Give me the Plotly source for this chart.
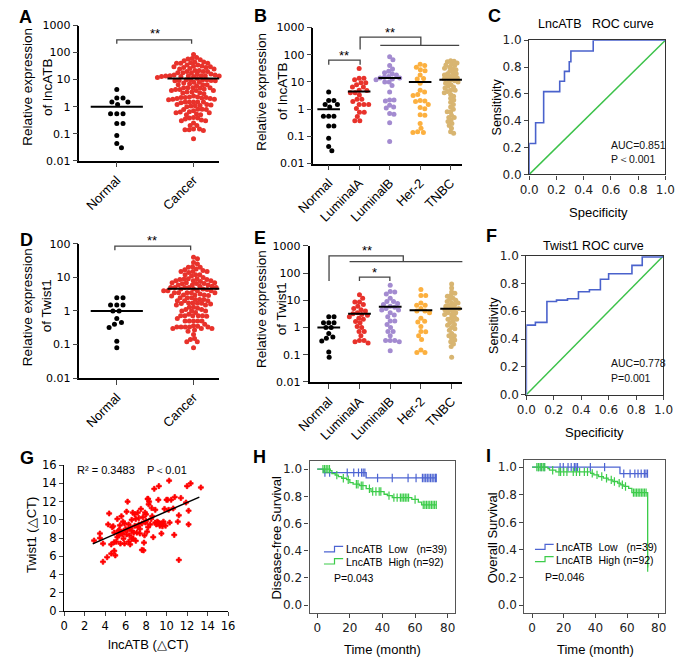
import numpy as np
import plotly.graph_objects as go

W, H = 685, 665

# ---------------- data ----------------
groups_B = ["Normal", "LuminalA", "LuminalB", "Her-2", "TNBC"]
groups_A = ["Normal", "Cancer"]

lnc_normal = [4.3, 2.1, 2.1, 1.5, 1.5, 1.2, 0.55, 0.55, 0.55, 0.24, 0.24, 0.085, 0.043, 0.03]
lnc_luminalA = [31, 13.6, 13.6, 12, 9.3, 9.3, 8, 6.5, 6.5, 5, 4.9, 4, 4, 3.3, 2.3, 2.3, 1.9,
                1.5, 1.5, 1.5, 1.07, 0.78, 0.78, 0.54, 0.38, 0.38]
lnc_luminalB = [85, 66, 40, 30, 25, 22, 20, 18, 16, 15, 14, 14, 13, 12, 10, 10, 7.5, 4.3, 2.2,
                2.2, 2.0, 1.4, 1.2, 1.1, 0.7, 0.65, 0.32, 0.065]
lnc_her2 = [45, 40, 35, 28, 26, 18, 13.5, 13, 9, 5, 4.3, 3.5, 3.2, 2.1, 2, 1.9, 1.5, 1.15, 1.05,
            0.63, 0.6, 0.3, 0.2, 0.15, 0.14, 0.14]
lnc_tnbc = [60, 58, 55, 50, 45, 42, 40, 35, 32, 30, 28, 25, 22, 20, 20, 18, 16, 15, 14, 14, 13,
            12, 11, 10, 10, 9, 8, 7, 6.5, 6, 5, 5, 4.5, 4, 3.5, 3, 2.5, 2.2, 1.8, 1.5, 1.2, 1.0,
            0.8, 0.8, 0.6, 0.5, 0.5, 0.4, 0.35, 0.3, 0.25, 0.2, 0.15, 0.13]
lnc_means_A = [1.0, 11.0]
lnc_means_B = [1.0, 4.5, 14.0, 10.0, 12.0]

tw_normal = [2.5, 2.5, 1.5, 1.5, 1.5, 1.0, 1.0, 0.6, 0.45, 0.4, 0.32, 0.126, 0.08]
tw_luminalA = [16, 12, 8.7, 8.7, 7, 6, 5, 4.5, 4, 3.5, 3.2, 3, 2.8, 2.5, 2.2, 2, 1.66, 1.5, 1.1,
               1.0, 0.72, 0.72, 0.5, 0.33, 0.33, 0.3, 0.27]
tw_luminalB = [36, 21, 20, 17, 12, 9.1, 9.1, 7.6, 7, 6, 5.5, 5, 4.4, 4.4, 3.5, 2.9, 2.5, 1.74,
               1.74, 1.3, 1.0, 0.72, 0.72, 0.5, 0.33, 0.33, 0.33, 0.3, 0.14]
tw_her2 = [25, 15, 15, 8, 6.6, 6.6, 5, 4, 4, 3.5, 2.2, 1.7, 1.6, 1.1, 0.72, 0.7, 0.5, 0.36,
           0.15, 0.12, 0.12]
tw_tnbc = [40, 28, 20, 18, 15, 14, 12, 11, 10, 9, 8, 8, 7, 6.5, 6, 5.5, 5, 5, 4.5, 4.5, 4, 3.5,
           3.5, 3, 3, 2.5, 2.2, 2, 2, 1.7, 1.5, 1.3, 1.2, 1.0, 0.9, 0.8, 0.6, 0.5, 0.5, 0.4,
           0.35, 0.3, 0.25, 0.2, 0.08]
tw_means_D = [1.0, 4.6]
tw_means_E = [1.0, 3.2, 5.8, 4.3, 4.9]

lnc_cancer = lnc_luminalA + lnc_luminalB + lnc_her2 + lnc_tnbc
tw_cancer = tw_luminalA + tw_luminalB + tw_her2 + tw_tnbc

# ROC curves (1 - specificity, sensitivity) step vertices
roc_lnc_fpr = [0, 0, 0.047, 0.106, 0.224, 0.259, 0.294, 0.306, 0.47, 1.0]
roc_lnc_tpr = [0, 0.23, 0.385, 0.617, 0.695, 0.768, 0.84, 0.92, 1.0, 1.0]
roc_tw_fpr = [0, 0, 0.066, 0.15, 0.22, 0.30, 0.38, 0.46, 0.54, 0.60, 0.77, 0.845, 1.0]
roc_tw_tpr = [0, 0.50, 0.52, 0.67, 0.68, 0.69, 0.74, 0.755, 0.83, 0.87, 0.93, 0.99, 1.0]

# Correlation (delta CT)
g_lnc = [2.93, 3.5, 3.5, 3.8, 3.8, 4.2, 4.3, 4.4, 4.6, 4.8, 4.9, 4.9, 4.9, 5.0, 5.2, 5.3, 5.35,
         5.45, 5.6, 5.5, 5.7, 5.75, 5.8, 6.0, 6.1, 6.2, 6.3, 6.4, 6.45, 6.6, 6.7, 6.75, 6.9, 7.0,
         7.1, 7.2, 7.3, 7.4, 7.5, 7.6, 7.75, 7.85, 7.95, 8.0, 8.15, 8.25, 8.4, 8.5, 8.55, 8.7,
         8.8, 8.9, 9.1, 9.2, 9.25, 9.35, 9.5, 9.6, 9.9, 10.0, 10.2, 10.25, 10.45, 10.65, 10.8,
         10.75, 11.1, 11.2, 11.2, 11.4, 11.9, 12.0, 12.15, 12.15, 12.35, 13.35,
         5.5, 5.8, 6.2, 6.5, 6.8, 7.2, 7.6, 8.0, 8.2, 8.3, 8.6, 8.9, 9.0, 9.2, 9.4, 9.7, 9.8,
         10.1, 5.9, 6.3, 6.6, 7.0, 7.4, 7.8, 5.1, 4.6, 5.2, 6.9, 7.7, 8.1, 4.7, 5.9, 6.1, 7.3,
         8.2, 9.6, 10.3, 5.4, 6.6, 7.9]
g_twist = [7.73, 8.5, 8.0, 7.4, 5.4, 5.9, 9.5, 10.7, 6.3, 9.3, 8.6, 7.55, 6.6, 6.1, 10.1, 8.8,
           8.3, 9.4, 10.4, 7.4, 8.45, 9.8, 7.95, 9.0, 10.9, 12.0, 9.5, 8.3, 7.3, 8.8, 10.8, 7.95,
           9.35, 10.1, 8.6, 10.8, 9.5, 9.0, 11.2, 6.7, 6.65, 8.3, 9.7, 10.6, 12.3, 11.7, 9.5,
           10.1, 11.3, 8.1, 13.4, 9.7, 9.8, 12.2, 13.7, 9.35, 8.5, 9.6, 9.35, 12.2, 11.1, 14.3,
           12.2, 11.25, 12.5, 8.35, 9.8, 10.5, 5.6, 12.4, 11.9, 13.7, 11.0, 9.5, 14.0, 13.55,
           8.5, 8.7, 8.9, 9.1, 8.6, 9.2, 9.6, 9.9, 12.3, 12.0, 10.4, 11.1, 9.5, 9.7, 9.6, 9.8,
           11.2, 12.2, 7.4, 7.6, 7.9, 7.7, 8.5, 7.5, 7.6, 7.3, 8.1, 10.6, 10.3, 8.7, 9.2, 9.6,
           8.4, 10.2, 9.2, 9.3, 9.7, 8.9, 10.0, 10.8]
g_fit_slope = 0.493
g_fit_intercept = 5.99
g_fit_range = [2.8, 13.2]

# Kaplan-Meier: disease-free survival
dfs_low_t = [0, 4, 30]
dfs_low_s = [1.0, 0.974, 0.935]
dfs_low_cens = [4.7, 7.6, 18.4, 22.4, 25.3, 27.2, 28.2, 29.2, 37, 46, 55.7, 60.6, 64.5, 65.5,
                66.5, 67.5, 68.5, 69.5, 70.5, 71.5, 72.5, 73]
dfs_high_t = [0, 8, 9, 11, 13, 15, 18, 20, 22, 26, 30, 33, 41, 43, 46, 58, 62, 64]
dfs_high_s = [1.0, 0.989, 0.967, 0.956, 0.945, 0.933, 0.922, 0.90, 0.889, 0.878, 0.856, 0.835,
              0.815, 0.805, 0.79, 0.777, 0.757, 0.737]
dfs_high_cens = [3.5, 4.5, 5.5, 6.5, 7.5, 12, 16, 19, 24, 25, 27, 28, 32, 34, 36, 38, 39, 44, 47,
                 49, 51, 52, 53, 54, 55, 56, 60, 65, 66, 67, 68, 69, 70, 71, 72, 73]
# Kaplan-Meier: overall survival
os_low_t = [0, 55.5]
os_low_s = [1.0, 0.953]
os_low_cens = [4, 5.6, 7.6, 17.7, 19.7, 22.7, 24.7, 26.7, 27.7, 28.7, 36.8, 45.8, 57.9, 61.9,
               64.9, 66.9, 68.9, 70.9, 71.9, 72.9]
os_high_t = [0, 10, 11, 15, 37, 39, 42, 45, 48, 51, 54, 56, 58, 61, 63, 73]
os_high_s = [1.0, 0.989, 0.978, 0.966, 0.955, 0.944, 0.932, 0.92, 0.908, 0.896, 0.884, 0.872,
             0.86, 0.846, 0.815, 0.272]
os_high_cens = [3, 4, 5, 6, 7, 8, 13, 17, 18, 20, 22, 26, 28, 30, 33, 35, 38, 41, 44, 47, 50, 52,
                55, 57, 59, 64, 65, 66, 67, 68, 69, 70, 71, 72, 73]
km_end = 73

# ---------------- styling ----------------
BLACK = "#000000"
RED = "#e8322b"
PURPLE = "#a38bd0"
ORANGE = "#fcb03f"
TAN = "#d8b571"
BLUE = "#4a62cc"
GREEN = "#3cc24a"
KM_BLUE = "#4d64d2"
KM_GREEN = "#3ccc4a"
TXT = "Liberation Sans, Arial, sans-serif"
NUM = "DejaVu Sans, sans-serif"

fig = go.Figure()


def xd(p0, p1):
    return [p0 / W, p1 / W]


def yd(top, bot):
    return [1 - bot / H, 1 - top / H]


def ax_names(k):
    return ("x" if k == 1 else f"x{k}"), ("y" if k == 1 else f"y{k}")


def swarm_offsets(vals, px_per_dec, px_per_unit, d):
    y = np.log10(np.asarray(vals, float)) * px_per_dec
    order = np.argsort(-y, kind="stable")
    px_l, py_l = [], []
    off = np.zeros(len(y))
    for i in order:
        yi = y[i]
        cands = [0.0]
        for px, py in zip(px_l, py_l):
            dy = yi - py
            if abs(dy) < d:
                dx = np.sqrt(d * d - dy * dy)
                cands += [px + dx, px - dx]
        cands.sort(key=lambda c: (abs(c), -c))
        chosen = cands[-1]
        for c in cands:
            if all((c - px) ** 2 + (yi - py) ** 2 >= d * d - 1e-6 for px, py in zip(px_l, py_l)):
                chosen = c
                break
        off[i] = chosen
        px_l.append(chosen)
        py_l.append(yi)
    return off / px_per_unit


def add_swarm(k, groups, colors, means, ppd, ppu, size, spacings, hw):
    xa, ya = ax_names(k)
    for i, (vals, col, d) in enumerate(zip(groups, colors, spacings)):
        off = swarm_offsets(vals, ppd, ppu, d)
        fig.add_trace(go.Scatter(x=i + off, y=vals, mode="markers", xaxis=xa, yaxis=ya,
                                 marker=dict(size=size, color=col, line=dict(width=0)),
                                 showlegend=False, hoverinfo="skip", cliponaxis=False))
    for i, m in enumerate(means):
        fig.add_trace(go.Scatter(x=[i - hw, i + hw], y=[m, m], mode="lines", xaxis=xa, yaxis=ya,
                                 line=dict(color="black", width=2), showlegend=False,
                                 hoverinfo="skip"))


# dot plots
add_swarm(1, [lnc_normal, lnc_cancer], [BLACK, RED], lnc_means_A, 27.6, 80, 5,
          [6.5, 4.4], 0.34)
add_swarm(2, [lnc_normal, lnc_luminalA, lnc_luminalB, lnc_her2, lnc_tnbc],
          [BLACK, RED, PURPLE, ORANGE, TAN], lnc_means_B, 27.9, 32, 5,
          [5.5, 5.0, 4.6, 5.0, 3.6], 0.37)
add_swarm(4, [tw_normal, tw_cancer], [BLACK, RED], tw_means_D, 34.25, 80, 5,
          [6.5, 4.4], 0.34)
add_swarm(5, [tw_normal, tw_luminalA, tw_luminalB, tw_her2, tw_tnbc],
          [BLACK, RED, PURPLE, ORANGE, TAN], tw_means_E, 27.8, 32, 5,
          [5.5, 4.8, 4.8, 5.0, 3.6], 0.37)

# ROC curves
for k, fpr, tpr in [(3, roc_lnc_fpr, roc_lnc_tpr), (6, roc_tw_fpr, roc_tw_tpr)]:
    xa, ya = ax_names(k)
    fig.add_trace(go.Scatter(x=[0, 1], y=[0, 1], mode="lines", xaxis=xa, yaxis=ya,
                             line=dict(color=GREEN, width=1.5), showlegend=False,
                             hoverinfo="skip"))
    fig.add_trace(go.Scatter(x=fpr, y=tpr, mode="lines", line_shape="hv", xaxis=xa, yaxis=ya,
                             line=dict(color=BLUE, width=1.6), showlegend=False,
                             hoverinfo="skip", cliponaxis=False))

# correlation
fig.add_trace(go.Scatter(x=g_lnc, y=g_twist, mode="markers", xaxis="x7", yaxis="y7",
                         marker=dict(symbol="cross", size=4.2, color="#ff0000",
                                     line=dict(width=0.7, color="#ff0000")),
                         showlegend=False, hoverinfo="skip"))
fx = np.array(g_fit_range)
fig.add_trace(go.Scatter(x=fx, y=g_fit_slope * fx + g_fit_intercept, mode="lines",
                         xaxis="x7", yaxis="y7", line=dict(color="black", width=1.5),
                         showlegend=False, hoverinfo="skip"))


# Kaplan-Meier
def step_at(t, s, c):
    idx = np.searchsorted(np.asarray(t, float), c, side="right") - 1
    return [s[j] for j in idx]


for k, series in [(8, [(dfs_low_t, dfs_low_s, dfs_low_cens, KM_BLUE),
                       (dfs_high_t, dfs_high_s, dfs_high_cens, KM_GREEN)]),
                  (9, [(os_low_t, os_low_s, os_low_cens, KM_BLUE),
                       (os_high_t, os_high_s, os_high_cens, KM_GREEN)])]:
    xa, ya = ax_names(k)
    for t, s, cens, col in series:
        fig.add_trace(go.Scatter(x=list(t) + [km_end], y=list(s) + [s[-1]], mode="lines",
                                 line_shape="hv", xaxis=xa, yaxis=ya,
                                 line=dict(color=col, width=1.3), showlegend=False,
                                 hoverinfo="skip"))
        fig.add_trace(go.Scatter(x=cens, y=step_at(t, s, cens), mode="markers",
                                 xaxis=xa, yaxis=ya,
                                 marker=dict(symbol="line-ns-open", size=6, color=col,
                                             line=dict(color=col, width=1.2)),
                                 showlegend=False, hoverinfo="skip"))

# ---------------- axes ----------------
tickfont = dict(family=NUM, size=11, color="black")
catfont = dict(family=TXT, size=13, color="black")


def log_y(dom, rng, vals):
    return dict(domain=dom, type="log", range=rng, tickvals=vals,
                ticktext=[("%g" % v) for v in vals], ticks="outside", ticklen=5,
                tickwidth=1.3, showline=True, linecolor="black", linewidth=1.5,
                showgrid=False, zeroline=False, tickfont=tickfont)


def cat_x(dom, rng, names, anchor):
    return dict(domain=dom, range=rng, tickvals=list(range(len(names))), ticktext=names,
                tickangle=-45, ticks="outside", ticklen=5, tickwidth=1.3, showline=True,
                linecolor="black", linewidth=1.5, showgrid=False, zeroline=False,
                tickfont=catfont, anchor=anchor)


def roc_ax(dom, anchor):
    return dict(domain=dom, range=[0, 1], tickvals=[0, 0.2, 0.4, 0.6, 0.8, 1.0],
                ticktext=["0.0", "0.2", "0.4", "0.6", "0.8", "1.0"], ticks="outside",
                ticklen=4, tickwidth=1.2, showline=True, mirror=True, linecolor="#333",
                linewidth=1.3, showgrid=False, zeroline=False,
                tickfont=dict(family=NUM, size=12, color="#222"), anchor=anchor)


def km_ax(dom, rng, vals, text, anchor):
    return dict(domain=dom, range=rng, tickvals=vals, ticktext=text, ticks="outside",
                ticklen=4, tickwidth=1.1, tickcolor="#444", showline=True, mirror=True,
                linecolor="#555", linewidth=1.2, showgrid=False, zeroline=False,
                tickfont=dict(family=NUM, size=12, color="#222"), anchor=anchor)


dec5 = [0.01, 0.1, 1, 10, 100, 1000]
dec4 = [0.01, 0.1, 1, 10, 100]
layout = dict(
    width=W, height=H, autosize=False, margin=dict(l=0, r=0, t=0, b=0),
    plot_bgcolor="white", paper_bgcolor="white", showlegend=False,
    xaxis=cat_x(xd(64, 210), [-0.4875, 1.3375], groups_A, "y"),
    yaxis=dict(log_y(yd(19, 157), [-2, 3], dec5), anchor="x"),
    xaxis2=cat_x(xd(308, 463), [-0.5, 4.375], groups_B, "y2"),
    yaxis2=dict(log_y(yd(21, 160), [-2, 3], dec5), anchor="x2"),
    xaxis3=roc_ax(xd(533, 675), "y3"),
    yaxis3=roc_ax(yd(34, 171), "x3"),
    xaxis4=cat_x(xd(64, 210), [-0.4875, 1.3375], groups_A, "y4"),
    yaxis4=dict(log_y(yd(242, 379), [-2, 2], dec4), anchor="x4"),
    xaxis5=cat_x(xd(304, 463), [-0.625, 4.34], groups_B, "y5"),
    yaxis5=dict(log_y(yd(244, 383), [-2, 3], dec5), anchor="x5"),
    xaxis6=roc_ax(xd(530, 673), "y6"),
    yaxis6=roc_ax(yd(254, 396), "x6"),
    xaxis7=dict(domain=xd(48, 219), range=[0, 16], dtick=2, ticks="outside", ticklen=4,
                showline=True, linecolor="black", linewidth=1.2, showgrid=False,
                zeroline=False, tickfont=dict(family=NUM, size=11.5, color="black"),
                anchor="y7"),
    yaxis7=dict(domain=yd(468, 617), range=[0, 16], dtick=2, ticks="outside", ticklen=4,
                showline=True, linecolor="black", linewidth=1.2, showgrid=False,
                zeroline=False, tickfont=dict(family=NUM, size=11.5, color="black"),
                anchor="x7"),
    xaxis8=km_ax(xd(304, 456), [-4.7, 84.7], [0, 20, 40, 60, 80],
                 ["0", "20", "40", "60", "80"], "y8"),
    yaxis8=km_ax(yd(464, 619), [-0.058, 1.058], [0, 0.2, 0.4, 0.6, 0.8, 1.0],
                 ["0.0", "0.2", "0.4", "0.6", "0.8", "1.0"], "x8"),
    xaxis9=km_ax(xd(528, 675), [-4.85, 84.2], [0, 20, 40, 60, 80],
                 ["0", "20", "40", "60", "80"], "y9"),
    yaxis9=km_ax(yd(463, 619), [-0.057, 1.05], [0, 0.2, 0.4, 0.6, 0.8, 1.0],
                 ["0.0", "0.2", "0.4", "0.6", "0.8", "1.0"], "x9"),
)
fig.update_layout(**layout)

# ---------------- annotations ----------------
anns = []


def ann(text, px, py, size=13, angle=0, xanchor="center", bold=False, family=TXT,
        color="black"):
    anns.append(dict(text=("<b>%s</b>" % text) if bold else text, x=px / W, y=1 - py / H,
                     xref="paper", yref="paper", showarrow=False, textangle=angle,
                     xanchor=xanchor, yanchor="middle",
                     font=dict(family=family, size=size, color=color)))


# panel letters
for lab, px, py in [("A", 8, 10), ("B", 252.5, 9.5), ("C", 496.5, 9), ("D", 8.5, 238),
                    ("E", 252.5, 236), ("F", 494, 234), ("G", 9, 461), ("H", 251.5, 459.5),
                    ("I", 490.5, 459)]:
    ann(lab, px, py, size=18, bold=True)

# y-axis titles of dot plots
ann("Relative expression", 10, 82, size=13.5, angle=-90)
ann("of lncATB", 30, 82, size=13.5, angle=-90)
ann("Relative expression", 254, 87, size=13.5, angle=-90)
ann("of lncATB", 275, 86, size=13.5, angle=-90)
ann("Relative expression", 10, 307, size=13.5, angle=-90)
ann("of Twist1", 30, 305, size=13.5, angle=-90)
ann("Relative expression", 254, 309, size=13.5, angle=-90)
ann("of Twist1", 275, 308, size=13.5, angle=-90)

# ROC texts
ann("LncATB\u00a0\u00a0\u00a0ROC curve", 603, 17, size=12.5)
ann("Sensitivity", 499, 102, size=12.5, angle=-90)
ann("Specificity", 605, 210, size=13)
ann("AUC=0.851", 616, 141, size=10.5, xanchor="left", color="#111")
ann("P\uff1c0.001", 616, 155, size=10.5, xanchor="left", color="#111")
ann("Twist1 ROC curve", 600, 244, size=12.5)
ann("Sensitivity", 496, 325, size=12.5, angle=-90)
ann("Specificity", 601, 435, size=13)
ann("AUC=0.778", 616, 364, size=10.5, xanchor="left", color="#111")
ann("P=0.001", 616, 379, size=10.5, xanchor="left", color="#111")

# correlation texts
ann("Twist1 (\u25b3CT)", 14, 539, size=13, angle=-90)
ann("lncATB (\u25b3CT)", 136, 651, size=13)
ann("R\u00b2 = 0.3483\u00a0\u00a0\u00a0\u00a0P\uff1c0.01", 59, 473, size=11, xanchor="left")

# KM texts
ann("Disease-free Survival", 270, 542, size=13, angle=-90)
ann("Time (month)", 380, 656, size=13)
ann("Overall Survival", 495, 542, size=13, angle=-90)
ann("Time (month)", 602, 656, size=13)
ann("LncATB\u00a0\u00a0Low\u00a0\u00a0\u00a0(n=39)", 340, 554, size=10.5, xanchor="left")
ann("LncATB\u00a0\u00a0High\u00a0(n=92)", 340, 567, size=10.5, xanchor="left")
ann("P=0.043", 327, 583, size=10.5, xanchor="left")
ann("LncATB\u00a0\u00a0Low\u00a0\u00a0\u00a0(n=39)", 559, 552, size=10.5, xanchor="left")
ann("LncATB\u00a0\u00a0High\u00a0(n=92)", 559, 564.5, size=10.5, xanchor="left")
ann("P=0.046", 547, 582, size=10.5, xanchor="left")

# significance marks
ann("**", 143, 27, size=13)
ann("**", 340, 50, size=13)
ann("**", 388, 26, size=13)
ann("**", 140, 239, size=13)
ann("**", 364, 249, size=13)
ann("*", 372, 271, size=13)

fig.update_layout(annotations=anns)

# ---------------- bracket / legend-symbol shapes ----------------
shapes = []


def poly(pts, color="#444", width=1.3):
    path = "M " + " L ".join("%.5f,%.5f" % (x / W, 1 - y / H) for x, y in pts)
    shapes.append(dict(type="path", path=path, xref="paper", yref="paper",
                       line=dict(color=color, width=width)))


poly([(103, 37.5), (103, 33.5), (181, 33.5), (181, 37.5)])
poly([(324, 59), (324, 54.3), (356.7, 54.3), (356.7, 59)])
poly([(356.7, 43.3), (356.7, 30.7), (420, 30.7), (420, 39.3)])
poly([(377.7, 39.3), (460, 39.3)])
poly([(101, 248.5), (101, 244.3), (180, 244.3), (180, 248.5)])
poly([(324.3, 280), (324.3, 254.3), (401.7, 254.3), (401.7, 260)])
poly([(345.7, 260), (463.3, 260)])
poly([(356, 280), (356, 276), (387.7, 276), (387.7, 280)])
# KM legend symbols
poly([(319, 556.5), (330, 556.5), (330, 551), (339, 551)], color=KM_BLUE, width=1.2)
poly([(319, 569), (330, 569), (330, 563.5), (339, 563.5)], color=KM_GREEN, width=1.2)
poly([(539, 554), (549.5, 554), (549.5, 549), (558.5, 549)], color=KM_BLUE, width=1.2)
poly([(539, 566.5), (549.5, 566.5), (549.5, 561.5), (558.5, 561.5)], color=KM_GREEN,
     width=1.2)
fig.update_layout(shapes=shapes)

fig.write_html("out.html", include_plotlyjs=True, full_html=True,
               config={"displayModeBar": False},
               post_script="document.body.style.margin='0';document.body.style.overflow='hidden';")
